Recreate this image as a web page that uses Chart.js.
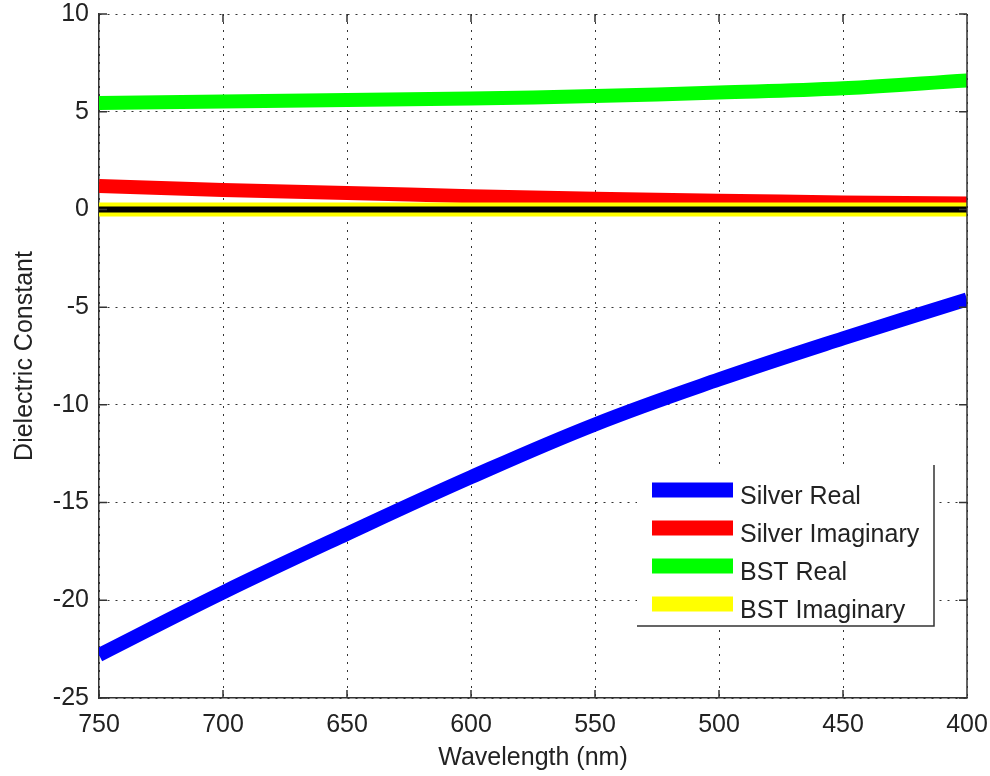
<!DOCTYPE html>
<html lang="en">
<head>
    <meta charset="UTF-8">
    <title>Dielectric Constant vs Wavelength</title>
    <script src="https://cdn.jsdelivr.net/npm/chart.js"></script>
    <style>
        body {
            margin: 0;
            background-color: #ffffff;
        }
        #wrap {
            width: 990px;
            height: 776px;
        }
    </style>
</head>
<body>
    <div id="wrap">
        <canvas id="epsChart" width="990" height="776"></canvas>
    </div>

    <script>
        // wavelength in nm, axis runs 750 -> 400
        const wavelengths = [750, 700, 650, 600, 550, 500, 450, 400];
        const silverReal = [-22.8, -19.6, -16.6, -13.7, -11.0, -8.7, -6.6, -4.6];
        const silverImag = [1.2, 1.0, 0.84, 0.68, 0.55, 0.45, 0.36, 0.3];
        const bstReal = [5.45, 5.52, 5.6, 5.68, 5.8, 5.98, 6.2, 6.6];
        const bstImag = [0, 0, 0, 0, 0, 0, 0, 0];
        const zeroLine = [0, 0, 0, 0, 0, 0, 0, 0];

        const xTicks = [750, 700, 650, 600, 550, 500, 450, 400];
        const yTicks = [10, 5, 0, -5, -10, -15, -20, -25];

        // narrow sans looks closest to the tall plot lettering
        function fontAvailable(name) {
            const c = document.createElement('canvas').getContext('2d');
            const probe = 'Silver Imaginary 750';
            c.font = '40px monospace';
            const base = c.measureText(probe).width;
            c.font = `40px "${name}", monospace`;
            return c.measureText(probe).width !== base;
        }
        const narrow = fontAvailable('Liberation Sans Narrow');
        const fontFamily = narrow ? '"Liberation Sans Narrow", Arial, sans-serif' : '"Liberation Sans", Arial, sans-serif';
        const fontSize = narrow ? 29 : 25;
        const textColor = '#222222';
        const axisColor = '#333333';
        const gridColor = '#333333';

        function toPoints(values) {
            return wavelengths.map((w, i) => ({ x: w, y: values[i] }));
        }

        function series(label, values, color, width, order) {
            return {
                label: label,
                data: toPoints(values),
                borderColor: color,
                backgroundColor: color,
                borderWidth: width,
                pointRadius: 0,
                tension: 0.4,
                order: order,
                clip: 0
            };
        }

        // inward ticks on all four sides plus the right frame edge
        const frameTicks = {
            id: 'frameTicks',
            afterDatasetsDraw(chart) {
                const { ctx, chartArea: a, scales: { x, y } } = chart;
                const len = 8;
                ctx.save();
                ctx.strokeStyle = axisColor;
                ctx.lineWidth = 1.5;
                ctx.beginPath();
                ctx.moveTo(a.right, a.top);
                ctx.lineTo(a.right, a.bottom);
                xTicks.forEach(v => {
                    const px = x.getPixelForValue(v);
                    ctx.moveTo(px, a.bottom);
                    ctx.lineTo(px, a.bottom - len);
                    ctx.moveTo(px, a.top);
                    ctx.lineTo(px, a.top + len);
                });
                yTicks.forEach(v => {
                    const py = y.getPixelForValue(v);
                    ctx.moveTo(a.left, py);
                    ctx.lineTo(a.left + len, py);
                    ctx.moveTo(a.right, py);
                    ctx.lineTo(a.right - len, py);
                });
                ctx.stroke();
                ctx.restore();
            }
        };

        // boxed legend in the lower right
        const boxLegend = {
            id: 'boxLegend',
            afterDraw(chart) {
                const { ctx } = chart;
                const box = { left: 637, top: 465, right: 934, bottom: 626 };
                const items = chart.data.datasets.filter(d => d.label);
                ctx.save();
                ctx.fillStyle = '#ffffff';
                ctx.fillRect(box.left, box.top, box.right - box.left, box.bottom - box.top);
                ctx.strokeStyle = axisColor;
                ctx.lineWidth = 1.5;
                ctx.beginPath();
                ctx.moveTo(box.left, box.bottom);
                ctx.lineTo(box.right, box.bottom);
                ctx.lineTo(box.right, box.top);
                ctx.stroke();

                ctx.font = `${fontSize}px ${fontFamily}`;
                ctx.textBaseline = 'alphabetic';
                ctx.textAlign = 'left';
                items.forEach((d, i) => {
                    const cy = 490 + i * 38;
                    ctx.strokeStyle = d.borderColor;
                    ctx.lineWidth = 15;
                    ctx.lineCap = 'butt';
                    ctx.beginPath();
                    ctx.moveTo(652, cy);
                    ctx.lineTo(733, cy);
                    ctx.stroke();
                    ctx.fillStyle = textColor;
                    ctx.fillText(d.label, 740, cy + 14);
                });
                ctx.restore();
            }
        };

        const ctx = document.getElementById('epsChart').getContext('2d');
        new Chart(ctx, {
            type: 'line',
            data: {
                datasets: [
                    series('Silver Real', silverReal, '#0000ff', 14, 5),
                    series('Silver Imaginary', silverImag, '#ff0000', 14, 4),
                    series('BST Real', bstReal, '#00ff00', 14, 3),
                    series('BST Imaginary', bstImag, '#ffff00', 14, 2),
                    series('', zeroLine, '#000000', 6, 1)
                ]
            },
            options: {
                responsive: false,
                animation: false,
                layout: {
                    padding: { left: 0, right: 23, top: 14, bottom: 0 }
                },
                plugins: {
                    legend: { display: false },
                    tooltip: { enabled: false }
                },
                scales: {
                    x: {
                        type: 'linear',
                        reverse: true,
                        min: 400,
                        max: 750,
                        afterBuildTicks: scale => {
                            scale.ticks = xTicks.map(v => ({ value: v }));
                        },
                        afterFit: scale => {
                            scale.height = 78;
                            scale.paddingLeft = 0;
                            scale.paddingRight = 0;
                        },
                        grid: {
                            color: gridColor,
                            lineWidth: 1,
                            drawTicks: false
                        },
                        border: {
                            display: true,
                            color: axisColor,
                            width: 1.5,
                            dash: [2, 6]
                        },
                        ticks: {
                            padding: 15,
                            color: textColor,
                            maxRotation: 0,
                            font: { family: fontFamily, size: fontSize, lineHeight: 1 }
                        },
                        title: {
                            display: true,
                            text: 'Wavelength (nm)',
                            color: textColor,
                            padding: { top: 0, bottom: 5 },
                            font: { family: fontFamily, size: fontSize, lineHeight: 1 }
                        }
                    },
                    y: {
                        min: -25,
                        max: 10,
                        afterBuildTicks: scale => {
                            scale.ticks = yTicks.slice().reverse().map(v => ({ value: v }));
                        },
                        afterFit: scale => {
                            scale.width = 99;
                            scale.paddingTop = 0;
                            scale.paddingBottom = 0;
                        },
                        grid: {
                            color: gridColor,
                            lineWidth: 1,
                            drawTicks: false
                        },
                        border: {
                            display: true,
                            color: axisColor,
                            width: 1.5,
                            dash: [2, 6]
                        },
                        ticks: {
                            padding: 10,
                            color: textColor,
                            font: { family: fontFamily, size: fontSize, lineHeight: 1 }
                        },
                        title: {
                            display: true,
                            text: 'Dielectric Constant',
                            color: textColor,
                            padding: { top: 13, bottom: 0 },
                            font: { family: fontFamily, size: fontSize, lineHeight: 1 }
                        }
                    }
                }
            },
            plugins: [frameTicks, boxLegend]
        });
    </script>
</body>
</html>
